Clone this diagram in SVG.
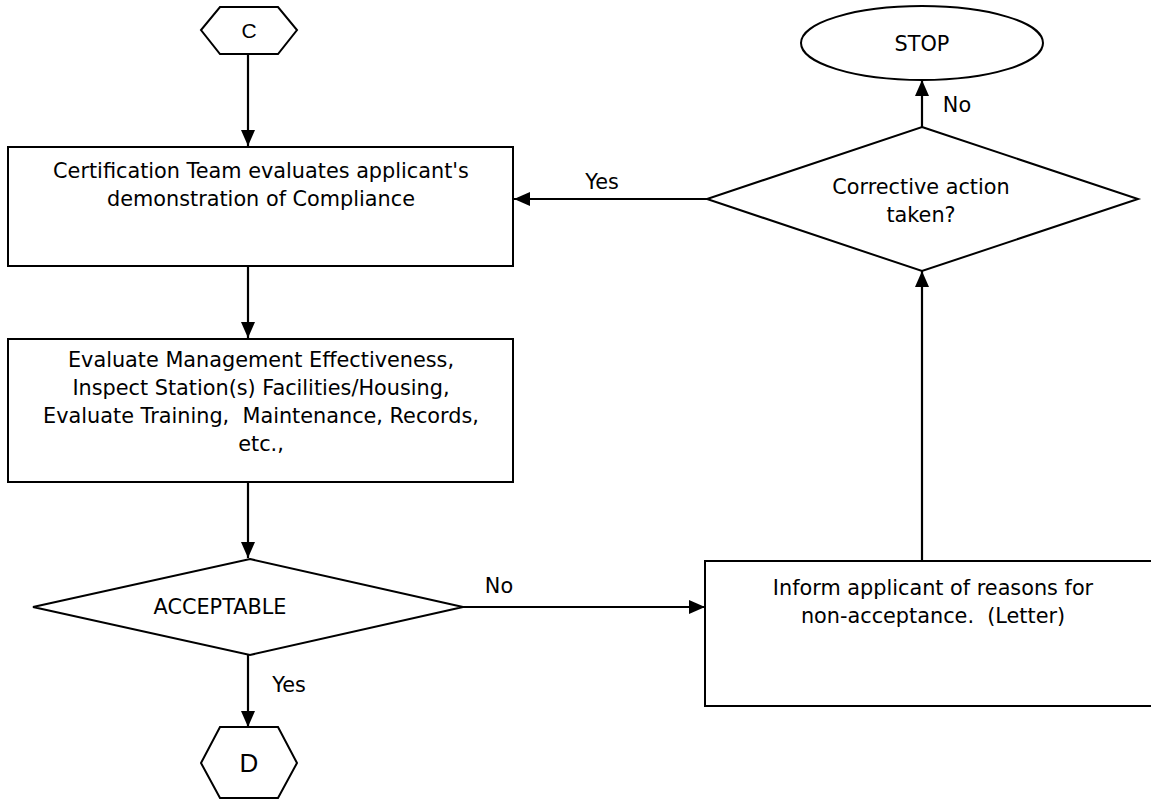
<svg xmlns="http://www.w3.org/2000/svg" width="1151" height="801" viewBox="0 0 1151 801">
  <style>
    .shape { fill: #ffffff; stroke: #000000; stroke-width: 2; }
    .conn { fill: none; stroke: #000000; stroke-width: 2.2; }
    .lbl { font-family: "DejaVu Sans", Verdana, sans-serif; font-size: 20.8px; fill: #000000; text-anchor: middle; }
    .hex { font-family: "Liberation Sans", Arial, sans-serif; fill: #000000; text-anchor: middle; }
  </style>
  <defs>
    <marker id="arrow" viewBox="0 0 16 14" refX="16" refY="7" markerWidth="16" markerHeight="14" markerUnits="userSpaceOnUse" orient="auto">
      <path d="M0,0 L16,7 L0,14 Z" fill="#000000"/>
    </marker>
  </defs>

  <rect x="0" y="0" width="1151" height="801" fill="#ffffff"/>

  <!-- connectors -->
  <g id="connectors">
    <line class="conn" x1="248" y1="54" x2="248" y2="146" marker-end="url(#arrow)"/>
    <line class="conn" x1="248" y1="266" x2="248" y2="338" marker-end="url(#arrow)"/>
    <line class="conn" x1="248" y1="482" x2="248" y2="558" marker-end="url(#arrow)"/>
    <line class="conn" x1="463" y1="607" x2="705" y2="607" marker-end="url(#arrow)"/>
    <line class="conn" x1="922" y1="561" x2="922" y2="271" marker-end="url(#arrow)"/>
    <line class="conn" x1="707" y1="199" x2="514" y2="199" marker-end="url(#arrow)"/>
    <line class="conn" x1="922" y1="127" x2="922" y2="80" marker-end="url(#arrow)"/>
    <line class="conn" x1="248" y1="655" x2="248" y2="727" marker-end="url(#arrow)"/>
    <text class="lbl" x="602" y="189">Yes</text>
    <text class="lbl" x="957" y="112">No</text>
    <text class="lbl" x="499" y="593">No</text>
    <text class="lbl" x="289" y="692">Yes</text>
  </g>

  <!-- connector C -->
  <g id="node-c">
    <polygon class="shape" points="220,7 278,7 297,30 278,54 220,54 201,30"/>
    <text class="hex" x="249" y="38" font-size="21">C</text>
  </g>

  <!-- evaluation of compliance -->
  <g id="node-evaluate">
    <rect class="shape" x="8" y="147" width="505" height="119"/>
    <text class="lbl" x="261" y="178">Certification Team evaluates applicant's</text>
    <text class="lbl" x="261" y="206">demonstration of Compliance</text>
  </g>

  <!-- inspection step -->
  <g id="node-inspect">
    <rect class="shape" x="8" y="339" width="505" height="143"/>
    <text class="lbl" x="261" y="367">Evaluate Management Effectiveness,</text>
    <text class="lbl" x="261" y="395">Inspect Station(s) Facilities/Housing,</text>
    <text class="lbl" x="261" y="423" xml:space="preserve">Evaluate Training,  Maintenance, Records,</text>
    <text class="lbl" x="261" y="451">etc.,</text>
  </g>

  <!-- acceptable decision -->
  <g id="node-acceptable">
    <polygon class="shape" points="250,559 463,607 250,655 33,607"/>
    <text class="lbl" x="220" y="614">ACCEPTABLE</text>
  </g>

  <!-- connector D -->
  <g id="node-d">
    <polygon class="shape" points="220,727 278,727 297,763 278,798 220,798 201,763"/>
    <text class="hex" x="249" y="772" font-size="26">D</text>
  </g>

  <!-- non-acceptance letter -->
  <g id="node-inform">
    <rect class="shape" x="705" y="561" width="460" height="145"/>
    <text class="lbl" x="933" y="595">Inform applicant of reasons for</text>
    <text class="lbl" x="933" y="623" xml:space="preserve">non-acceptance.  (Letter)</text>
  </g>

  <!-- corrective action decision -->
  <g id="node-corrective">
    <polygon class="shape" points="922,127 1138,199 922,271 707,199"/>
    <text class="lbl" x="921" y="194">Corrective action</text>
    <text class="lbl" x="921" y="222">taken?</text>
  </g>

  <!-- terminator -->
  <g id="node-stop">
    <ellipse class="shape" cx="922" cy="43" rx="121" ry="37"/>
    <text class="lbl" x="922" y="51">STOP</text>
  </g>
</svg>
